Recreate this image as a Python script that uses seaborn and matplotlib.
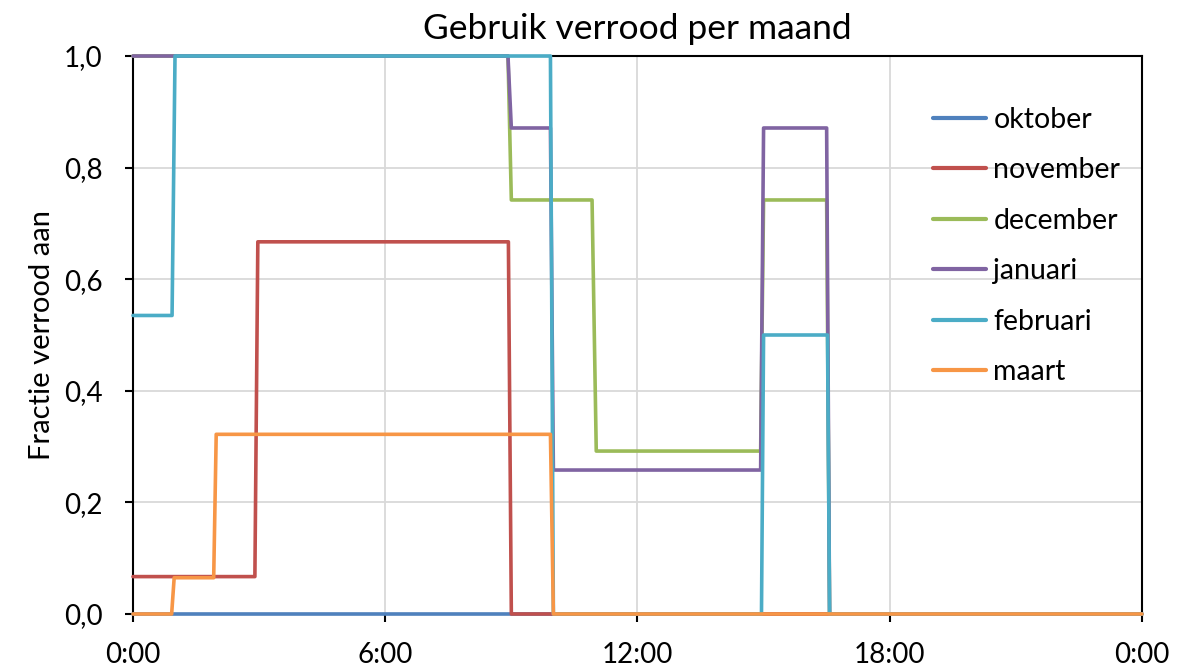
import pandas as pd
import matplotlib.pyplot as plt
import matplotlib.ticker as mticker
import seaborn as sns

# breakpoints: time in hours, fraction far-red on
months = ["oktober", "november", "december", "januari", "februari", "maart"]

oktober_t = [0, 24]
oktober_v = [0, 0]

november_t = [0, 2.9, 2.97, 8.93, 9.0, 24]
november_v = [0.067, 0.067, 0.667, 0.667, 0, 0]

december_t = [0, 8.92, 9.0, 10.92, 11.02, 14.93, 15.0, 16.5, 16.57, 24]
december_v = [1, 1, 0.742, 0.742, 0.292, 0.292, 0.742, 0.742, 0, 0]

januari_t = [0, 8.92, 9.0, 9.93, 10.0, 14.93, 15.0, 16.5, 16.57, 24]
januari_v = [1, 1, 0.871, 0.871, 0.258, 0.258, 0.871, 0.871, 0, 0]

februari_t = [0, 0.93, 1.0, 9.93, 10.0, 14.95, 15.0, 16.52, 16.57, 24]
februari_v = [0.535, 0.535, 1, 1, 0, 0, 0.5, 0.5, 0, 0]

maart_t = [0, 0.92, 0.98, 1.92, 1.98, 9.93, 10.0, 24]
maart_v = [0, 0, 0.065, 0.065, 0.322, 0.322, 0, 0]

x_ticks = [0, 6, 12, 18, 24]
x_labels = ["0:00", "6:00", "12:00", "18:00", "0:00"]

series = {
    "oktober": (oktober_t, oktober_v),
    "november": (november_t, november_v),
    "december": (december_t, december_v),
    "januari": (januari_t, januari_v),
    "februari": (februari_t, februari_v),
    "maart": (maart_t, maart_v),
}
rows = []
for m in months:
    t, v = series[m]
    rows += [{"maand": m, "tijd": a, "fractie": b} for a, b in zip(t, v)]
df = pd.DataFrame(rows)

palette = ["#4F81BD", "#C0504D", "#9BBB59", "#8064A2", "#4BACC6", "#F79646"]

sns.set_theme(style="white", rc={
    "axes.edgecolor": "black",
    "axes.linewidth": 1.5,
    "grid.color": "#D9D9D9",
    "grid.linewidth": 1.3,
    "xtick.color": "black",
    "ytick.color": "black",
    "text.color": "black",
    "axes.labelcolor": "black",
})
plt.rcParams["font.family"] = ["Lato", "DejaVu Sans"]

fig = plt.figure(figsize=(11.83, 6.7), dpi=100)
ax = fig.add_axes([0.1124, 0.0836, 0.8529, 0.8328])

sns.lineplot(data=df, x="tijd", y="fractie", hue="maand", hue_order=months,
             palette=palette, estimator=None, sort=False, linewidth=2.6, ax=ax)
for ln in ax.get_lines():
    ln.set_zorder(3)
    ln.set_clip_on(False)

ax.set_xlim(0, 24)
ax.set_ylim(0, 1)
ax.set_xticks(x_ticks)
ax.set_xticklabels(x_labels)
ax.set_yticks([0, 0.2, 0.4, 0.6, 0.8, 1.0])
ax.yaxis.set_major_formatter(mticker.FuncFormatter(lambda v, p: f"{v:.1f}".replace(".", ",")))
ax.tick_params(axis="both", labelsize=20, length=6, width=1.5, direction="out",
               bottom=True, left=True)
ax.tick_params(axis="x", pad=14)
ax.tick_params(axis="y", pad=16)
ax.grid(True, axis="both")
ax.set_axisbelow(True)

ax.set_xlabel("")
ax.set_ylabel("Fractie verrood aan", fontsize=21, labelpad=6)
ax.set_title("Gebruik verrood per maand", fontsize=25.5, pad=12)

leg = ax.legend(loc="upper left", bbox_to_anchor=(0.768, 0.955), frameon=False,
                fontsize=20.5, handlelength=1.85, handletextpad=0.25, labelspacing=0.86)
for h in leg.get_lines():
    h.set_linewidth(3)

plt.savefig("out.png", dpi=100, facecolor="white")
